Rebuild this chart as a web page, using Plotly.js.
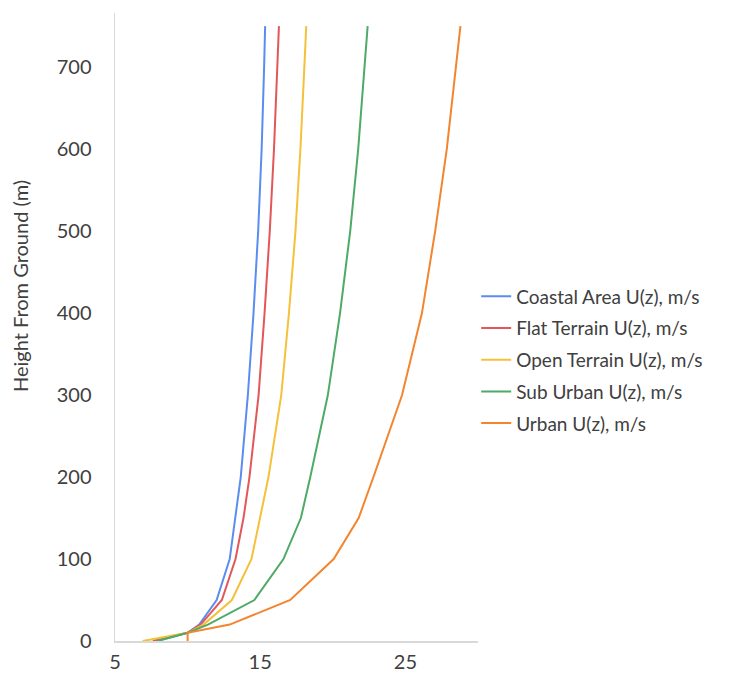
<!DOCTYPE html>
<html>
<head>
<meta charset="utf-8">
<script src="https://cdn.plot.ly/plotly-3.0.1.min.js"></script>
<style>html,body{margin:0;padding:0;background:#fff;}#chart{width:729px;height:677px;}</style>
</head>
<body>
<div id="chart"></div>
<script>
// Heights (m) shared by the wind-profile series
const heights = [0, 10, 20, 50, 100, 150, 200, 300, 400, 500, 600, 700, 750];
const coastal = [7.9, 10, 10.8, 12.0, 12.9, 13.3, 13.66, 14.15, 14.54, 14.86, 15.1, 15.27, 15.34];
const flat    = [7.6, 10, 10.9, 12.36, 13.3, 13.85, 14.26, 14.89, 15.3, 15.66, 15.95, 16.17, 16.29];
const open    = [6.9, 10, 11.1, 13.05, 14.4, 15.0, 15.57, 16.45, 16.98, 17.43, 17.77, 18.04, 18.17];
const suburb  = [7.9, 10, 11.4, 14.6, 16.6, 17.8, 18.45, 19.66, 20.5, 21.2, 21.75, 22.2, 22.4];
const urban   = [10, 10, 12.9, 17.07, 20.06, 21.78, 22.8, 24.77, 26.14, 27.05, 27.85, 28.5, 28.79];

const names = ["Coastal Area U(z), m/s", "Flat Terrain U(z), m/s", "Open Terrain U(z), m/s", "Sub Urban U(z), m/s", "Urban U(z), m/s"];
const series = [coastal, flat, open, suburb, urban];
const colors = ["#5B8DEF", "#E2575A", "#F5C13A", "#4FAA66", "#F3852F"];

const xTicks = [5, 15, 25];
const yTicks = [0, 100, 200, 300, 400, 500, 600, 700];

const traces = series.map((s, i) => ({
  x: s, y: heights, type: "scatter", mode: "lines", name: names[i],
  legendgroup: "g" + i,
  line: {color: colors[i], width: 2}
}));

const font = {family: "Lato, 'Open Sans', sans-serif", color: "#404040"};

const layout = {
  width: 729, height: 677,
  margin: {l: 115, r: 251, t: 13, b: 36, pad: 0},
  paper_bgcolor: "#fff", plot_bgcolor: "#fff",
  font: Object.assign({size: 19}, font),
  showlegend: true,
  legend: {x: 0.995, xanchor: "left", y: 0.4475, yanchor: "middle",
    font: Object.assign({size: 19}, font), traceorder: "grouped", tracegroupgap: 4,
    itemwidth: 30, bgcolor: "rgba(0,0,0,0)"},
  xaxis: {range: [5, 30], tickvals: xTicks, ticktext: xTicks.map(String),
    showgrid: false, zeroline: false, showline: true, linecolor: "#d9d9d9", linewidth: 1.5,
    ticks: "", ticklabelstandoff: 2, tickfont: Object.assign({size: 20}, font), fixedrange: true},
  yaxis: {range: [0, 766], tickvals: yTicks, ticktext: yTicks.map(String),
    showgrid: false, zeroline: false, showline: true, linecolor: "#d9d9d9", linewidth: 1.5,
    ticks: "", ticklabelstandoff: 18, tickfont: Object.assign({size: 20}, font), fixedrange: true},
  annotations: [{
    text: "Height From Ground (m)", textangle: -90, showarrow: false,
    xref: "paper", yref: "paper", x: -0.262, y: 0.565, xanchor: "center", yanchor: "middle",
    font: Object.assign({size: 20}, font)
  }]
};

Plotly.newPlot("chart", traces, layout, {displayModeBar: false, staticPlot: true});
</script>
</body>
</html>
